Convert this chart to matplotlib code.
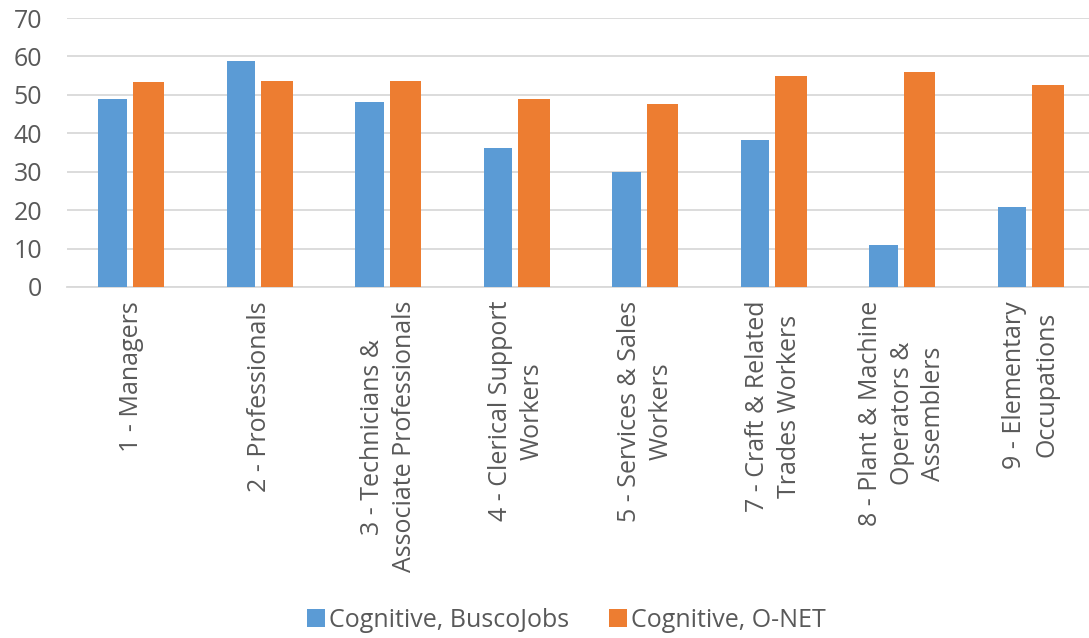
import numpy as np
import matplotlib.pyplot as plt

plt.rcParams['font.family'] = ['Open Sans', 'DejaVu Sans']

categories = ["1 - Managers", "2 - Professionals",
              "3 - Technicians &\nAssociate Professionals",
              "4 - Clerical Support\nWorkers", "5 - Services & Sales\nWorkers",
              "7 - Craft & Related\nTrades Workers",
              "8 - Plant & Machine\nOperators &\nAssemblers",
              "9 - Elementary\nOccupations"]
buscojobs = [49.0, 58.9, 48.2, 36.3, 30.0, 38.2, 10.9, 20.8]
onet = [53.3, 53.7, 53.7, 49.0, 47.7, 54.8, 56.0, 52.5]

font_size = 18
text_color = '#595959'

fig = plt.figure(figsize=(10.89, 6.38), dpi=100)
# chart area is cut at the right edge in the original
ax = fig.add_axes([67 / 1089, 1 - 287 / 638, 1028 / 1089, 269 / 638])

index = np.arange(len(categories))

ax.bar(index - 0.146, buscojobs, 0.222, color='#5B9BD5', label='Cognitive, BuscoJobs', zorder=3)
ax.bar(index + 0.134, onet, 0.246, color='#ED7D31', label='Cognitive, O-NET', zorder=3)

ax.set_xlim(-0.5, len(categories) - 0.5)
ax.set_ylim(0, 70)
ax.set_yticks(np.arange(0, 71, 10))
ax.yaxis.grid(color='#d9d9d9', linewidth=1.3, zorder=0)
ax.set_axisbelow(True)

ax.set_xticks(index)
ax.set_xticklabels(categories, rotation=90, fontsize=font_size, color=text_color,
                   multialignment='center', linespacing=1.35)
ax.tick_params(axis='y', labelsize=font_size, labelcolor=text_color, length=0, pad=18)
ax.tick_params(axis='x', length=0, pad=10)

for side in ["top", "right", "left"]:
    ax.spines[side].set_visible(False)
ax.spines["bottom"].set_color('#d9d9d9')
ax.spines["bottom"].set_linewidth(1.3)

fig.legend(loc='center', bbox_to_anchor=(0.52, 0.028), ncol=2, frameon=False,
           fontsize=font_size, labelcolor=text_color, handlelength=0.72, handleheight=0.72,
           handletextpad=0.15, columnspacing=1.6)

plt.savefig("out.png", dpi=100)
